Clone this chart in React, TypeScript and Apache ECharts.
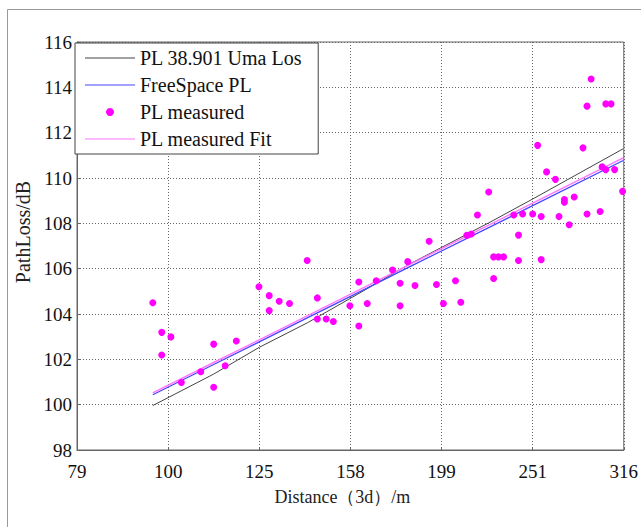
import React, { useEffect, useRef } from "react";
import * as echarts from "echarts";

// x tick labels (distance in m, log-spaced ticks at 10^1.9 ... 10^2.5)
const xTickLabels = ["79", "100", "125", "158", "199", "251", "316"];

// measured path loss points
const measDist = [96.2, 98.4, 98.4, 100.7, 103.4, 108.6, 112.2, 112.2, 115.5, 118.8, 125.8, 129.1, 129.1, 132.4, 135.9, 142.1, 145.8, 145.8, 149.1, 151.8, 158.3, 161.9, 161.9, 165.4, 169.2, 176.3, 179.7, 179.7, 183.2, 186.6, 193.4, 197.0, 200.5, 206.7, 209.5, 212.7, 215.1, 218.5, 224.8, 227.6, 227.6, 230.4, 233.4, 239.5, 242.4, 242.4, 244.9, 251.2, 254.4, 256.7, 256.7, 260.2, 266.1, 268.5, 272.2, 272.2, 275.5, 279.0, 285.3, 288.2, 288.2, 291.2, 297.9, 299.4, 302.2, 302.2, 306.2, 309.0, 315.3];
const measPL = [104.50, 103.19, 102.19, 102.99, 100.98, 101.45, 102.67, 100.77, 101.72, 102.81, 105.2, 104.81, 104.15, 104.56, 104.46, 106.36, 104.71, 103.78, 103.78, 103.67, 104.36, 105.41, 103.47, 104.46, 105.47, 105.94, 105.36, 104.36, 106.31, 105.26, 107.21, 105.30, 104.46, 105.47, 104.52, 107.47, 107.53, 108.37, 109.38, 105.57, 106.52, 106.52, 106.52, 108.37, 107.48, 106.36, 108.41, 108.41, 111.44, 108.30, 106.40, 110.27, 109.94, 108.30, 109.05, 108.93, 107.94, 109.16, 111.33, 108.41, 113.17, 114.37, 108.52, 110.49, 110.37, 113.27, 113.27, 110.37, 109.41];

// model curves (read at these distances)
const lineDist = [96.2, 112.2, 125.9, 142.3, 161.2, 184.0, 224.8, 250.9, 315.8];
const umaLosPL = [99.96, 101.35, 102.53, 103.62, 104.86, 106.2, 108.02, 109.06, 111.29];
const freeSpacePL = [100.44, 101.77, 102.77, 103.84, 104.92, 106.08, 107.81, 108.77, 110.77];
const measFitPL = [100.52, 101.86, 102.86, 103.93, 105.02, 106.18, 107.92, 108.88, 110.89];

const FONT = "Liberation Serif";
const LINE_ICON = "path://M0,0 L50,0 L50,1 L0,1 Z";

const lx = (d: number) => 10 * Math.log10(d);
const pairs = (xs: number[], ys: number[]) => xs.map((d, i) => [lx(d), ys[i]]);

export default function App() {
  const ref = useRef<HTMLDivElement>(null);
  useEffect(() => {
    if (!ref.current) return;
    const chart = echarts.init(ref.current, null, { renderer: "svg" });
    chart.setOption({
      animation: false,
      backgroundColor: "#fff",
      graphic: [
        {
          type: "rect",
          silent: true,
          z: -10,
          shape: { x: 7.5, y: 9.5, width: 700, height: 600 },
          style: { fill: "none", stroke: "#999", lineWidth: 1 },
        },
      ],
      grid: {
        left: 77,
        right: 11,
        top: 42,
        bottom: 77,
        show: true,
        borderColor: "#666",
        borderWidth: 1,
      },
      legend: {
        orient: "vertical",
        left: 75,
        top: 43,
        backgroundColor: "#fff",
        borderColor: "#444",
        borderWidth: 1,
        borderRadius: 0,
        padding: [5, 16, 5, 10],
        itemWidth: 50,
        itemHeight: 8,
        itemGap: 7,
        textStyle: { fontFamily: FONT, fontSize: 20, color: "#111", lineHeight: 20 },
        data: [
          { name: "PL 38.901 Uma Los", icon: LINE_ICON },
          { name: "FreeSpace PL", icon: LINE_ICON },
          { name: "PL measured", icon: "circle" },
          { name: "PL measured Fit", icon: LINE_ICON },
        ],
      },
      xAxis: {
        type: "value",
        min: 19,
        max: 25,
        interval: 1,
        name: "Distance（3d）/m",
        nameLocation: "middle",
        nameGap: 38,
        nameTextStyle: { fontFamily: FONT, fontSize: 18, color: "#222", padding: [0, 16, 0, 0] },
        axisLine: { show: true, onZero: false, lineStyle: { color: "#666" } },
        axisTick: { show: true, inside: true, length: 3, lineStyle: { color: "#666" } },
        axisLabel: {
          fontFamily: FONT,
          fontSize: 19,
          color: "#111",
          margin: 12,
          formatter: (v: number) => xTickLabels[Math.round(v - 19)] ?? "",
        },
        splitLine: { show: true, lineStyle: { color: "#666", type: [1, 2], width: 1 } },
      },
      yAxis: {
        type: "value",
        min: 98,
        max: 116,
        interval: 2,
        name: "PathLoss/dB",
        nameLocation: "middle",
        nameGap: 32,
        nameTextStyle: { fontFamily: FONT, fontSize: 20, color: "#222", padding: [0, 0, 0, 28] },
        axisLine: { show: true, lineStyle: { color: "#666" } },
        axisTick: { show: true, inside: true, length: 3, lineStyle: { color: "#666" } },
        axisLabel: { fontFamily: FONT, fontSize: 19, color: "#111", margin: 5 },
        splitLine: { show: true, lineStyle: { color: "#666", type: [1, 2], width: 1 } },
      },
      series: [
        {
          name: "PL 38.901 Uma Los",
          type: "line",
          symbol: "none",
          data: pairs(lineDist, umaLosPL),
          lineStyle: { color: "#444", width: 1 },
          itemStyle: { color: "#444" },
          z: 3,
        },
        {
          name: "FreeSpace PL",
          type: "line",
          symbol: "none",
          data: pairs(lineDist, freeSpacePL),
          lineStyle: { color: "#4444ff", width: 1.2 },
          itemStyle: { color: "#4444ff" },
          z: 3,
        },
        {
          name: "PL measured",
          type: "scatter",
          symbol: "circle",
          symbolSize: 7,
          data: pairs(measDist, measPL),
          itemStyle: { color: "#ff00ff", opacity: 1 },
          z: 5,
        },
        {
          name: "PL measured Fit",
          type: "line",
          symbol: "none",
          data: pairs(lineDist, measFitPL),
          lineStyle: { color: "#ff77ff", width: 1.5 },
          itemStyle: { color: "#ff77ff" },
          z: 4,
        },
      ],
    });
    return () => chart.dispose();
  }, []);
  return (
    <div
      ref={ref}
      style={{ position: "fixed", left: 0, top: 0, width: 641, height: 527 }}
    />
  );
}
